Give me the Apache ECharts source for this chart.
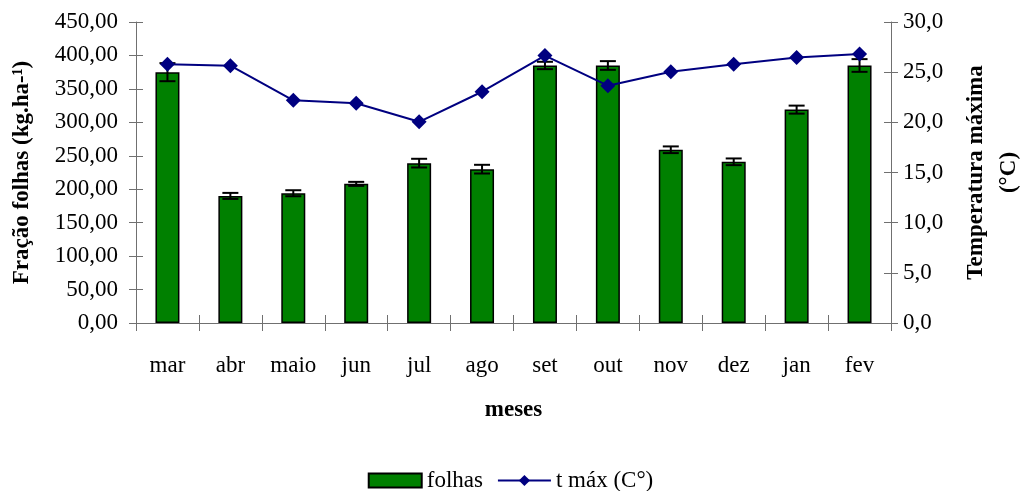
<!DOCTYPE html>
<html><head><meta charset="utf-8">
<script src="https://cdn.jsdelivr.net/npm/echarts@6/dist/echarts.min.js"></script>
<style>html,body{margin:0;padding:0;background:#fff}#c{width:1021px;height:491px}</style>
</head><body><div id="c"></div>
<script>
const months = ['mar','abr','maio','jun','jul','ago','set','out','nov','dez','jan','fev'];
const folhas = [375, 190, 194, 208, 239, 230, 385, 385, 259, 241, 319, 385];
const folhasErr = [13.5, 4.5, 4.5, 3, 6.5, 6.5, 5.5, 6.5, 5, 5, 6, 9.5];
const tmax = [25.8, 25.65, 22.2, 21.9, 20.05, 23.05, 26.65, 23.65, 25.05, 25.8, 26.45, 26.8];
const leftTicks = {min: 0, max: 450, interval: 50};
const rightTicks = {min: 0, max: 30, interval: 5};

const FONT = 'Liberation Serif';
const chart = echarts.init(document.getElementById('c'));
const axisLine = {show: true, lineStyle: {color: '#707070', width: 1}};
const tickStyle = {color: '#707070', width: 1};
const errData = folhas.map((v, i) => [i, v, folhasErr[i]]);

chart.setOption({
  animation: false,
  textStyle: {fontFamily: FONT},
  grid: {left: 136, right: 130, top: 22, bottom: 168, containLabel: false, outerBoundsMode: 'none'},
  legend: {
    top: 464, left: 'center', itemGap: 14,
    itemWidth: 53, itemHeight: 14,
    textStyle: {fontFamily: FONT, fontSize: 23, color: '#000'},
    data: [{name: 'folhas', icon: 'rect'}, {name: 't máx (C°)'}]
  },
  xAxis: [{
    type: 'category', data: months, boundaryGap: true,
    axisLine: axisLine,
    axisTick: {show: true, length: 8, lineStyle: tickStyle},
    axisLabel: {fontFamily: FONT, fontSize: 23, color: '#000', margin: 31},
    name: 'meses', nameLocation: 'middle', nameGap: 76,
    nameTextStyle: {fontFamily: FONT, fontSize: 23, fontWeight: 'bold', color: '#000'}
  }, {
    type: 'category', data: months, boundaryGap: true, position: 'bottom',
    axisLine: {show: false},
    axisTick: {show: true, inside: true, length: 8, lineStyle: tickStyle},
    axisLabel: {show: false}
  }],
  yAxis: [{
    type: 'value', position: 'left', min: leftTicks.min, max: leftTicks.max, interval: leftTicks.interval,
    axisLine: axisLine, splitLine: {show: false},
    axisTick: {show: true, length: 7, lineStyle: tickStyle},
    axisLabel: {fontFamily: FONT, fontSize: 23, color: '#000', margin: 18,
      formatter: v => v.toFixed(2).replace('.', ',')},
    name: 'Fração folhas (kg.ha-¹)', nameLocation: 'middle', nameGap: 102, nameRotate: 90,
    nameTextStyle: {fontFamily: FONT, fontSize: 23, fontWeight: 'bold', color: '#000'}
  }, {
    type: 'value', position: 'right', min: rightTicks.min, max: rightTicks.max, interval: rightTicks.interval,
    axisLine: axisLine, splitLine: {show: false},
    axisTick: {show: true, length: 7, lineStyle: tickStyle},
    axisLabel: {fontFamily: FONT, fontSize: 23, color: '#000', margin: 12,
      formatter: v => v.toFixed(1).replace('.', ',')},
    name: 'Temperatura máxima\n(°C)', nameLocation: 'middle', nameGap: 69, nameRotate: 90,
    nameTextStyle: {fontFamily: FONT, fontSize: 23, fontWeight: 'bold', color: '#000', lineHeight: 33}
  }, {
    type: 'value', position: 'left', min: leftTicks.min, max: leftTicks.max, interval: leftTicks.interval,
    axisLine: {show: false}, splitLine: {show: false}, axisLabel: {show: false},
    axisTick: {show: true, inside: true, length: 7, lineStyle: tickStyle}
  }, {
    type: 'value', position: 'right', min: rightTicks.min, max: rightTicks.max, interval: rightTicks.interval,
    axisLine: {show: false}, splitLine: {show: false}, axisLabel: {show: false},
    axisTick: {show: true, inside: true, length: 7, lineStyle: tickStyle}
  }],
  series: [{
    name: 'folhas', type: 'bar', data: folhas, barWidth: 24, yAxisIndex: 0,
    itemStyle: {color: '#008000', borderColor: '#000', borderWidth: 1.5}
  }, {
    name: 'err', type: 'custom', yAxisIndex: 0, data: errData, z: 5,
    renderItem: function (params, api) {
      const i = api.value(0), v = api.value(1), e = api.value(2);
      const hi = api.coord([i, v + e]), lo = api.coord([i, v - e]);
      const w = 8;
      const st = {stroke: '#000', lineWidth: 2};
      return {type: 'group', children: [
        {type: 'line', shape: {x1: hi[0], y1: hi[1], x2: lo[0], y2: lo[1]}, style: st},
        {type: 'line', shape: {x1: hi[0] - w, y1: hi[1], x2: hi[0] + w, y2: hi[1]}, style: st},
        {type: 'line', shape: {x1: lo[0] - w, y1: lo[1], x2: lo[0] + w, y2: lo[1]}, style: st}
      ]};
    }
  }, {
    name: 't máx (C°)', type: 'line', data: tmax, yAxisIndex: 1, z: 10,
    symbol: 'diamond', symbolSize: 15,
    lineStyle: {color: '#000080', width: 2},
    itemStyle: {color: '#000080'}
  }]
});
</script></body></html>
